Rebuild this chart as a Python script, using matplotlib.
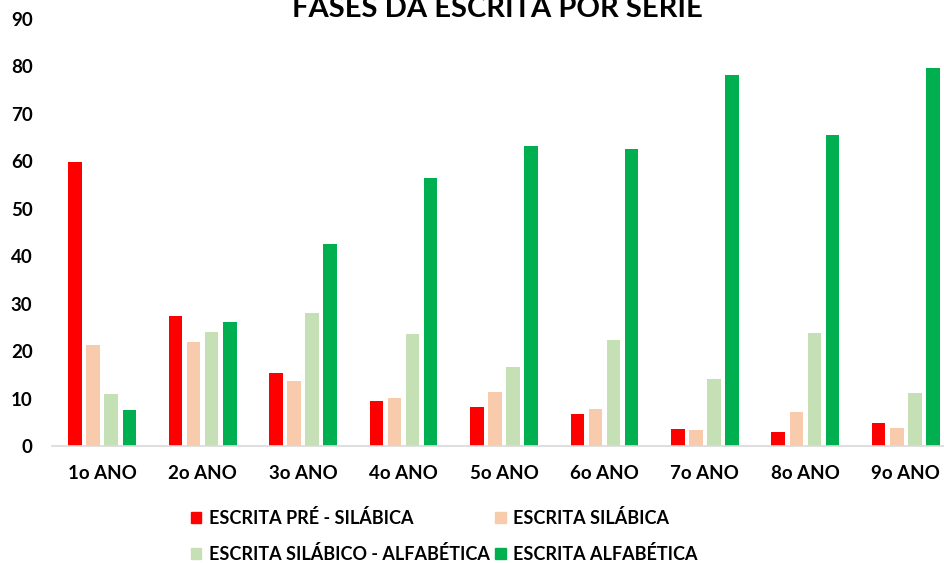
import matplotlib
matplotlib.use("Agg")
from matplotlib import pyplot as plt
from matplotlib.patches import Patch
import numpy as np

# dados
series = ["1o ANO", "2o ANO", "3o ANO", "4o ANO", "5o ANO",
          "6o ANO", "7o ANO", "8o ANO", "9o ANO"]
pre_silabica = [59.8, 27.5, 15.4, 9.4, 8.2, 6.8, 3.6, 3.0, 4.9]
silabica = [21.2, 22.0, 13.7, 10.2, 11.3, 7.8, 3.3, 7.2, 3.8]
silabico_alfabetica = [10.9, 24.0, 28.0, 23.6, 16.7, 22.4, 14.2, 23.8, 11.1]
alfabetica = [7.5, 26.1, 42.6, 56.5, 63.2, 62.6, 78.1, 65.5, 79.7]

nomes = ["ESCRITA PRÉ - SILÁBICA", "ESCRITA SILÁBICA",
         "ESCRITA SILÁBICO - ALFABÉTICA", "ESCRITA ALFABÉTICA"]
cores = ["#FF0000", "#F8CBAD", "#C5E0B4", "#00B050"]

plt.rcParams['font.family'] = ['Lato', 'DejaVu Sans']
plt.rcParams['font.weight'] = 'bold'

fig = plt.figure(figsize=(9.45, 5.63), dpi=100)
ax = fig.add_axes([52/945, 1-446/563, 904/945, (446-19)/563])

x = np.arange(len(series))
passo = 0.18
largura = 0.135
for i, (vals, cor) in enumerate(zip([pre_silabica, silabica, silabico_alfabetica, alfabetica], cores)):
    ax.bar(x + (i - 1.5) * passo, vals, width=largura, color=cor, label=nomes[i])

ax.set_xlim(-0.5, 8.5)
ax.set_ylim(0, 90)
ax.set_yticks(range(0, 91, 10))
ax.set_xticks(x)
ax.set_xticklabels(series)
ax.tick_params(axis='both', length=0, labelsize=13.5, labelcolor='black')
ax.tick_params(axis='y', pad=14)
ax.tick_params(axis='x', pad=13.5)
for lbl in ax.get_xticklabels() + ax.get_yticklabels():
    lbl.set_fontweight('bold')

for s in ['top', 'right', 'left']:
    ax.spines[s].set_visible(False)
ax.spines['bottom'].set_color('#D9D9D9')
ax.spines['bottom'].set_linewidth(1.2)

# título cortado no topo, como no original
fig.text(497/945, 1-17/563, "FASES DA ESCRITA POR SÉRIE", ha='center', va='baseline',
         fontsize=21, fontweight='bold', color='black')

# ordem para preencher a legenda por linhas
ordem = [0, 2, 1, 3]
handles = [Patch(color=cores[k]) for k in ordem]
labels = [nomes[k] for k in ordem]
leg = fig.legend(handles, labels, ncol=2, loc='center', bbox_to_anchor=(444/945, 1-536/563),
                 frameon=False, fontsize=13, handlelength=0.6, handleheight=0.6,
                 handletextpad=0.4, columnspacing=0.3, labelspacing=1.0)
for t in leg.get_texts():
    t.set_fontweight('bold')

fig.savefig("out.png", dpi=100)
